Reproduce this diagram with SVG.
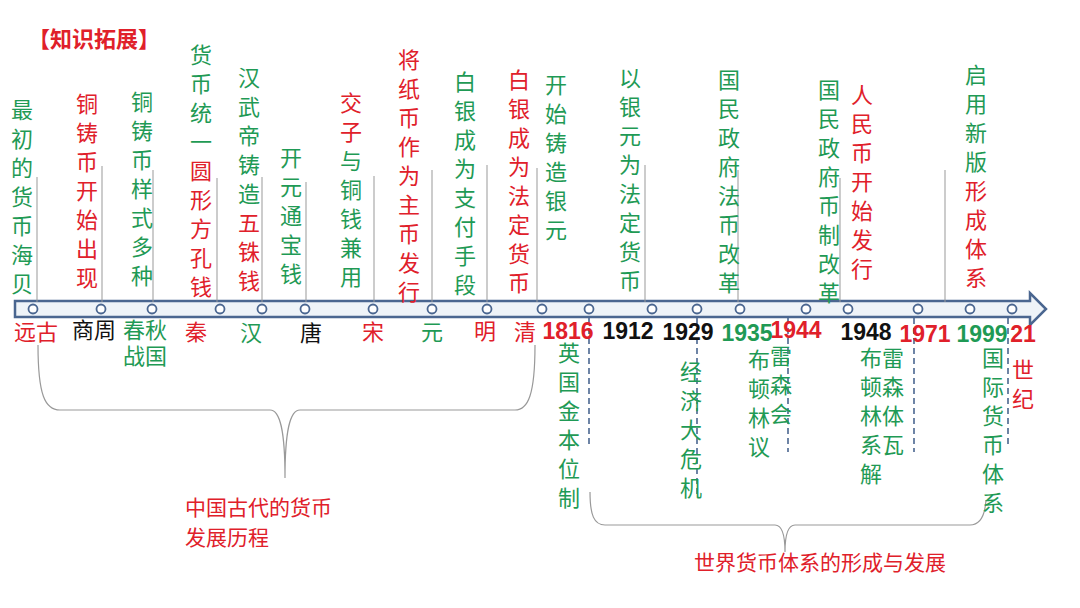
<svg xmlns="http://www.w3.org/2000/svg" width="1080" height="608" viewBox="0 0 1080 608">
<style>
text{font-family:"Noto Sans CJK SC","Liberation Sans",sans-serif;}
.v{font-size:22px;text-anchor:middle;}
.g{fill:#1f9a55}.r{fill:#e0202a}.k{fill:#111}
.yr{font-family:"Liberation Sans",sans-serif;font-size:23px;font-weight:bold;text-anchor:middle}
.tk{stroke:#999;stroke-width:1;fill:none}
.ds{stroke:#4a6690;stroke-width:1.6;stroke-dasharray:6,4;fill:none}
.br{stroke:#999;stroke-width:1.2;fill:none}
.c{fill:#fff;stroke:#4a6690;stroke-width:1.8}
</style>
<rect width="1080" height="608" fill="#fff"/>
<text x="28" y="47" font-size="22" font-weight="bold" class="r">【知识拓展】</text>
<g id="connectors">
<path d="M15,301 H1030 V293 L1046,309 L1030,325 V317 H15 Z" fill="#eef3f8" stroke="#4a6690" stroke-width="2.5"/>
<path class="tk" d="M37,177V302 M102,166V302 M153,170V302 M217,178V302 M262,177V302 M306,182V302 M374,176V302 M432,170V302 M487,165V302 M537,168V302 M645,165V302 M738,170V302 M840,178V302 M945,170V302"/>
<path class="ds" d="M589,318V447 M697,318V495 M788,318V452 M914,318V452 M1008,318V447"/>
<path class="br" d="M38,345 C38,395 45,410 60,410 H270 C280,410 285,430 285,478 C285,430 290,410 300,410 H515 C528,410 535,395 535,345"/>
<path class="br" d="M590,492 C590,515 594,525 605,525 H775 C782,525 785,535 785,552 C785,535 788,525 795,525 H970 C980,525 985,515 986,500"/>
</g>
<g id="circles">
<circle class="c" cx="33" cy="309" r="4.5"/><circle class="c" cx="101" cy="309" r="4.5"/><circle class="c" cx="152" cy="309" r="4.5"/><circle class="c" cx="220" cy="309" r="4.5"/><circle class="c" cx="262" cy="309" r="4.5"/><circle class="c" cx="305" cy="309" r="4.5"/><circle class="c" cx="373" cy="309" r="4.5"/><circle class="c" cx="432" cy="309" r="4.5"/><circle class="c" cx="487" cy="309" r="4.5"/><circle class="c" cx="542" cy="309" r="4.5"/><circle class="c" cx="589" cy="309" r="4.5"/><circle class="c" cx="652" cy="309" r="4.5"/><circle class="c" cx="697" cy="309" r="4.5"/><circle class="c" cx="740" cy="309" r="4.5"/><circle class="c" cx="806" cy="309" r="4.5"/><circle class="c" cx="848" cy="309" r="4.5"/><circle class="c" cx="918" cy="309" r="4.5"/><circle class="c" cx="970" cy="309" r="4.5"/><circle class="c" cx="1012" cy="309" r="4.5"/>
</g>
<g id="n1"><text class="v g" x="22"><tspan x="22" y="118">最</tspan><tspan x="22" dy="29">初</tspan><tspan x="22" dy="29">的</tspan><tspan x="22" dy="29">货</tspan><tspan x="22" dy="29">币</tspan><tspan x="22" dy="29">海</tspan><tspan x="22" dy="29">贝</tspan></text></g>
<g id="n2"><text class="v r"><tspan x="87" y="112">铜</tspan><tspan x="87" dy="29">铸</tspan><tspan x="87" dy="29">币</tspan><tspan x="87" dy="29">开</tspan><tspan x="87" dy="29">始</tspan><tspan x="87" dy="29">出</tspan><tspan x="87" dy="29">现</tspan></text></g>
<g id="n3"><text class="v g"><tspan x="142" y="110">铜</tspan><tspan x="142" dy="29">铸</tspan><tspan x="142" dy="29">币</tspan><tspan x="142" dy="29">样</tspan><tspan x="142" dy="29">式</tspan><tspan x="142" dy="29">多</tspan><tspan x="142" dy="29">种</tspan></text></g>
<g id="n4"><text class="v g"><tspan x="201" y="63">货</tspan><tspan x="201" dy="29">币</tspan><tspan x="201" dy="29">统</tspan><tspan x="201" dy="29">一</tspan></text><text class="v r"><tspan x="201" y="179">圆</tspan><tspan x="201" dy="29">形</tspan><tspan x="201" dy="29">方</tspan><tspan x="201" dy="29">孔</tspan><tspan x="201" dy="29">钱</tspan></text></g>
<g id="n5"><text class="v g"><tspan x="249" y="86">汉</tspan><tspan x="249" dy="29">武</tspan><tspan x="249" dy="29">帝</tspan><tspan x="249" dy="29">铸</tspan><tspan x="249" dy="29">造</tspan></text><text class="v r"><tspan x="249" y="231">五</tspan><tspan x="249" dy="29">铢</tspan><tspan x="249" dy="29">钱</tspan></text></g>
<g id="n6"><text class="v g"><tspan x="291" y="166">开</tspan><tspan x="291" dy="29">元</tspan><tspan x="291" dy="29">通</tspan><tspan x="291" dy="29">宝</tspan><tspan x="291" dy="29">钱</tspan></text></g>
<g id="n7"><text class="v r"><tspan x="351" y="111">交</tspan><tspan x="351" dy="29">子</tspan></text><text class="v g"><tspan x="351" y="169">与</tspan><tspan x="351" dy="29">铜</tspan><tspan x="351" dy="29">钱</tspan><tspan x="351" dy="29">兼</tspan><tspan x="351" dy="29">用</tspan></text></g>
<g id="n8"><text class="v r"><tspan x="409" y="68">将</tspan><tspan x="409" dy="29">纸</tspan><tspan x="409" dy="29">币</tspan><tspan x="409" dy="29">作</tspan><tspan x="409" dy="29">为</tspan><tspan x="409" dy="29">主</tspan><tspan x="409" dy="29">币</tspan><tspan x="409" dy="29">发</tspan><tspan x="409" dy="29">行</tspan></text></g>
<g id="n9"><text class="v g"><tspan x="465" y="90">白</tspan><tspan x="465" dy="29">银</tspan><tspan x="465" dy="29">成</tspan><tspan x="465" dy="29">为</tspan><tspan x="465" dy="29">支</tspan><tspan x="465" dy="29">付</tspan><tspan x="465" dy="29">手</tspan><tspan x="465" dy="29">段</tspan></text></g>
<g id="n10"><text class="v r"><tspan x="519" y="88">白</tspan><tspan x="519" dy="29">银</tspan><tspan x="519" dy="29">成</tspan><tspan x="519" dy="29">为</tspan><tspan x="519" dy="29">法</tspan><tspan x="519" dy="29">定</tspan><tspan x="519" dy="29">货</tspan><tspan x="519" dy="29">币</tspan></text></g>
<g id="n11"><text class="v g"><tspan x="556" y="93">开</tspan><tspan x="556" dy="29">始</tspan><tspan x="556" dy="29">铸</tspan><tspan x="556" dy="29">造</tspan><tspan x="556" dy="29">银</tspan><tspan x="556" dy="29">元</tspan></text></g>
<g id="n12"><text class="v g"><tspan x="630" y="86">以</tspan><tspan x="630" dy="29">银</tspan><tspan x="630" dy="29">元</tspan><tspan x="630" dy="29">为</tspan><tspan x="630" dy="29">法</tspan><tspan x="630" dy="29">定</tspan><tspan x="630" dy="29">货</tspan><tspan x="630" dy="29">币</tspan></text></g>
<g id="n13"><text class="v g"><tspan x="729" y="88">国</tspan><tspan x="729" dy="29">民</tspan><tspan x="729" dy="29">政</tspan><tspan x="729" dy="29">府</tspan><tspan x="729" dy="29">法</tspan><tspan x="729" dy="29">币</tspan><tspan x="729" dy="29">改</tspan><tspan x="729" dy="29">革</tspan></text></g>
<g id="n14"><text class="v g"><tspan x="829" y="98">国</tspan><tspan x="829" dy="29">民</tspan><tspan x="829" dy="29">政</tspan><tspan x="829" dy="29">府</tspan><tspan x="829" dy="29">币</tspan><tspan x="829" dy="29">制</tspan><tspan x="829" dy="29">改</tspan><tspan x="829" dy="29">革</tspan></text></g>
<g id="n15"><text class="v r"><tspan x="862" y="103">人</tspan><tspan x="862" dy="29">民</tspan><tspan x="862" dy="29">币</tspan><tspan x="862" dy="29">开</tspan><tspan x="862" dy="29">始</tspan><tspan x="862" dy="29">发</tspan><tspan x="862" dy="29">行</tspan></text></g>
<g id="n16"><text class="v g"><tspan x="976" y="83">启</tspan><tspan x="976" dy="29">用</tspan><tspan x="976" dy="29">新</tspan><tspan x="976" dy="29">版</tspan></text><text class="v r"><tspan x="976" y="199">形</tspan><tspan x="976" dy="29">成</tspan><tspan x="976" dy="29">体</tspan><tspan x="976" dy="29">系</tspan></text></g>
<g id="eras">
<text class="v r" x="36" y="340" font-size="24">远古</text>
<text class="v k" x="94" y="338">商周</text>
<text class="v g" x="145" y="338">春秋</text><text class="v g" x="145" y="364">战国</text>
<text class="v r" x="196" y="340">秦</text>
<text class="v g" x="251" y="341">汉</text>
<text class="v k" x="311" y="341">唐</text>
<text class="v r" x="373" y="340">宋</text>
<text class="v g" x="432" y="340">元</text>
<text class="v r" x="485" y="339">明</text>
<text class="v r" x="525" y="340">清</text>
<text class="yr r" x="568" y="339">1816</text>
<text class="yr k" x="628" y="339">1912</text>
<text class="yr k" x="688" y="340">1929</text>
<text class="yr g" x="747" y="341">1935</text>
<text class="yr r" x="796" y="338">1944</text>
<text class="yr k" x="866" y="340">1948</text>
<text class="yr r" x="925" y="342">1971</text>
<text class="yr g" x="982" y="342">1999</text>
<text class="yr r" x="1023" y="342">21</text>
</g>
<g id="b1"><text class="v g"><tspan x="569" y="361">英</tspan><tspan x="569" dy="29">国</tspan><tspan x="569" dy="29">金</tspan><tspan x="569" dy="29">本</tspan><tspan x="569" dy="29">位</tspan><tspan x="569" dy="29">制</tspan></text></g>
<g id="b2"><text class="v g"><tspan x="691" y="380">经</tspan><tspan x="691" dy="29">济</tspan><tspan x="691" dy="29">大</tspan><tspan x="691" dy="29">危</tspan><tspan x="691" dy="29">机</tspan></text></g>
<g id="b3"><text class="v g"><tspan x="759" y="368">布</tspan><tspan x="759" dy="29">顿</tspan><tspan x="759" dy="29">林</tspan><tspan x="759" dy="29">议</tspan></text><text class="v g"><tspan x="781" y="364">雷</tspan><tspan x="781" dy="29">森</tspan><tspan x="781" dy="29">会</tspan></text></g>
<g id="b4"><text class="v g"><tspan x="871" y="366">布</tspan><tspan x="871" dy="29">顿</tspan><tspan x="871" dy="29">林</tspan><tspan x="871" dy="29">系</tspan><tspan x="871" dy="29">解</tspan></text><text class="v g"><tspan x="893" y="366">雷</tspan><tspan x="893" dy="29">森</tspan><tspan x="893" dy="29">体</tspan><tspan x="893" dy="29">瓦</tspan></text></g>
<g id="b5"><text class="v g"><tspan x="993" y="366">国</tspan><tspan x="993" dy="29">际</tspan><tspan x="993" dy="29">货</tspan><tspan x="993" dy="29">币</tspan><tspan x="993" dy="29">体</tspan><tspan x="993" dy="29">系</tspan></text></g>
<g id="b6"><text class="v r"><tspan x="1023" y="378">世</tspan><tspan x="1023" dy="29">纪</tspan></text></g>
<text x="185" y="515" font-size="21" class="r">中国古代的货币</text>
<text x="185" y="545" font-size="21" class="r">发展历程</text>
<text x="820" y="570" font-size="21" class="r" text-anchor="middle">世界货币体系的形成与发展</text>
</svg>
